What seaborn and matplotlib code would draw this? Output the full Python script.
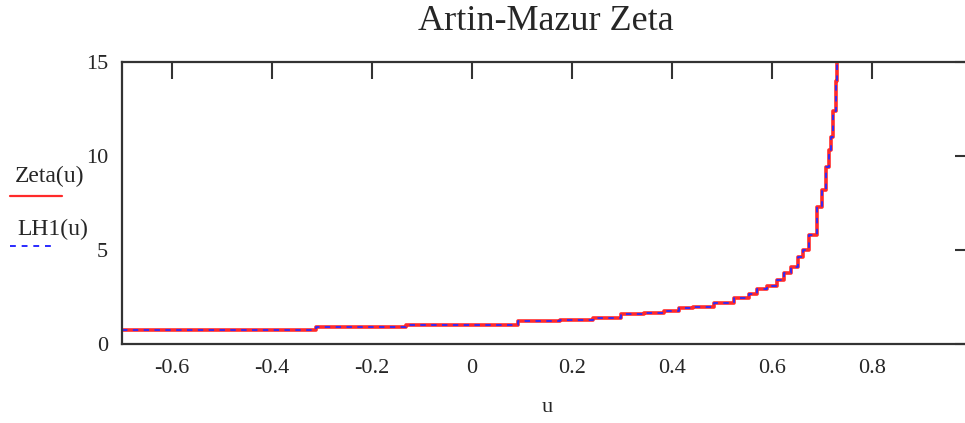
import seaborn as sns
import pandas as pd
import numpy as np
import matplotlib.pyplot as plt
from matplotlib.lines import Line2D

# values (step positions of the plotted curve)
u_vals = [-0.70, -0.312, -0.132, 0.092, 0.176, 0.243, 0.298, 0.344, 0.384,
          0.414, 0.442, 0.484, 0.524, 0.554, 0.570, 0.590, 0.610, 0.624,
          0.638, 0.652, 0.662, 0.674, 0.691, 0.701, 0.708, 0.714, 0.719,
          0.723, 0.728, 0.730]
zeta_vals = [0.75, 0.92, 1.03, 1.21, 1.29, 1.40, 1.58, 1.67, 1.76,
             1.90, 1.98, 2.20, 2.46, 2.66, 2.90, 3.10, 3.40, 3.80,
             4.10, 4.60, 5.00, 5.80, 7.30, 8.20, 9.40, 10.3, 11.0,
             12.4, 14.0, 15.5]
lh1_vals = list(zeta_vals)

x_ticks = [-0.6, -0.4, -0.2, 0, 0.2, 0.4, 0.6, 0.8]
x_tick_labels = ['-0.6', '-0.4', '-0.2', '0', '0.2', '0.4', '0.6', '0.8']
y_ticks = [0, 5, 10, 15]

df = pd.DataFrame({'u': u_vals, 'Zeta': zeta_vals, 'LH1': lh1_vals})

sns.set_style('white')
plt.rcParams['font.family'] = ['Liberation Serif', 'DejaVu Serif']
plt.rcParams['axes.unicode_minus'] = False

fig = plt.figure(figsize=(9.65, 4.23), dpi=100)
ax = fig.add_axes([0.1264, 0.1868, 0.8808, 0.6667])

sns.lineplot(data=df, x='u', y='Zeta', ax=ax, color='#ff2a2a', lw=2.6,
             drawstyle='steps-post', estimator=None, sort=False)
sns.lineplot(data=df, x='u', y='LH1', ax=ax, color='#2a2aff', lw=1.3,
             linestyle=(0, (3, 3)), drawstyle='steps-post',
             estimator=None, sort=False)

ax.set_xlim(-0.7, 1.0)
ax.set_ylim(0, 15)
ax.set_xticks(x_ticks)
ax.set_xticklabels(x_tick_labels)
ax.set_yticks(y_ticks)
ax.tick_params(direction='in', length=12, width=1.5, color='#333333',
               top=True, right=True, labelsize=16, pad=11)
ax.tick_params(axis='y', pad=10)
for s in ax.spines.values():
    s.set_color('#333333')
    s.set_linewidth(1.6)

ax.set_xlabel('u', fontsize=16, labelpad=14)
ax.set_ylabel('')

fig.text(0.566, 0.948, 'Artin-Mazur Zeta', fontsize=26, ha='center', va='center')

# legend on the left, Mathcad style: label above the line sample
fig.text(0.0155, 0.584, 'Zeta(u)', fontsize=17, ha='left', va='center')
fig.add_artist(Line2D([10 / 965, 62 / 965], [0.5366, 0.5366],
                      transform=fig.transFigure, color='#ff2a2a', lw=1.6))
fig.text(0.0175, 0.4586, 'LH1(u)', fontsize=17, ha='left', va='center')
fig.add_artist(Line2D([10 / 965, 54 / 965], [0.4184, 0.4184],
                      transform=fig.transFigure, color='#2a2aff', lw=1.4,
                      linestyle=(0, (3, 3))))

fig.savefig('out.png', dpi=100)
